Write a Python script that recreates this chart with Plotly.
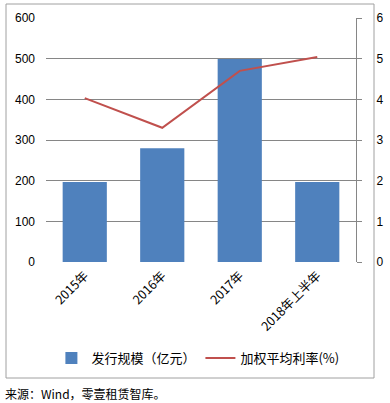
import plotly.graph_objects as go

categories = ["2015年", "2016年", "2017年", "2018年上半年"]
issue_scale = [197, 280, 499, 197]
avg_rate = [4.03, 3.30, 4.70, 5.04]
left_ticks = [0, 100, 200, 300, 400, 500, 600]
right_ticks = [0, 1, 2, 3, 4, 5, 6]

CJK = "Noto Sans CJK SC"
fig = go.Figure()
fig.add_trace(go.Bar(x=categories, y=issue_scale, name="发行规模（亿元）",
                     marker=dict(color="#4F81BD", line=dict(width=0)), width=0.57))
fig.add_trace(go.Scatter(x=categories, y=avg_rate, name="加权平均利率(%)", yaxis="y2",
                         mode="lines", line=dict(color="#C0504D", width=2)))

fig.update_layout(
    width=390, height=403,
    margin=dict(l=46, r=34, t=18, b=141, autoexpand=False),
    paper_bgcolor="white", plot_bgcolor="white",
    font=dict(family=CJK, size=12, color="#000000"),
    xaxis=dict(tickangle=-45, showgrid=False, ticks="", showline=False, automargin=False,
               tickfont=dict(size=12.5, family=CJK), zeroline=False, ticklabelstandoff=3),
    yaxis=dict(range=[0, 600], tickvals=left_ticks, showgrid=True, gridcolor="#868686",
               gridwidth=1, zeroline=False, showline=False, ticks="", automargin=False,
               tickfont=dict(size=12, family="Liberation Sans"), ticklabelstandoff=10),
    yaxis2=dict(range=[0, 6], tickvals=right_ticks, overlaying="y", side="right",
                showgrid=False, zeroline=False, showline=True, linecolor="#868686",
                ticks="outside", ticklen=5, tickcolor="#868686", automargin=False,
                ticklabelstandoff=12,
                tickfont=dict(size=12, family="Liberation Sans")),
    legend=dict(orientation="h", x=0.49, xanchor="center", y=(262-358)/244, yanchor="middle",
                font=dict(size=13, family=CJK), itemwidth=30, traceorder="normal"),
    showlegend=True,
)
fig.add_shape(type="rect", xref="paper", yref="paper",
              x0=-40/310, x1=328/310, y0=(262-378)/244, y1=(262-4)/244,
              line=dict(color="#A0A0A0", width=1))
fig.add_annotation(text="来源：Wind，零壹租赁智库。", xref="paper", yref="paper",
                   x=-43/310, y=(262-393)/244, xanchor="left", yanchor="middle",
                   showarrow=False, font=dict(size=12, family=CJK))
fig.write_html("out.html", config={"displayModeBar": False},
               post_script="document.body.style.margin='0';document.body.style.overflow='hidden';")
